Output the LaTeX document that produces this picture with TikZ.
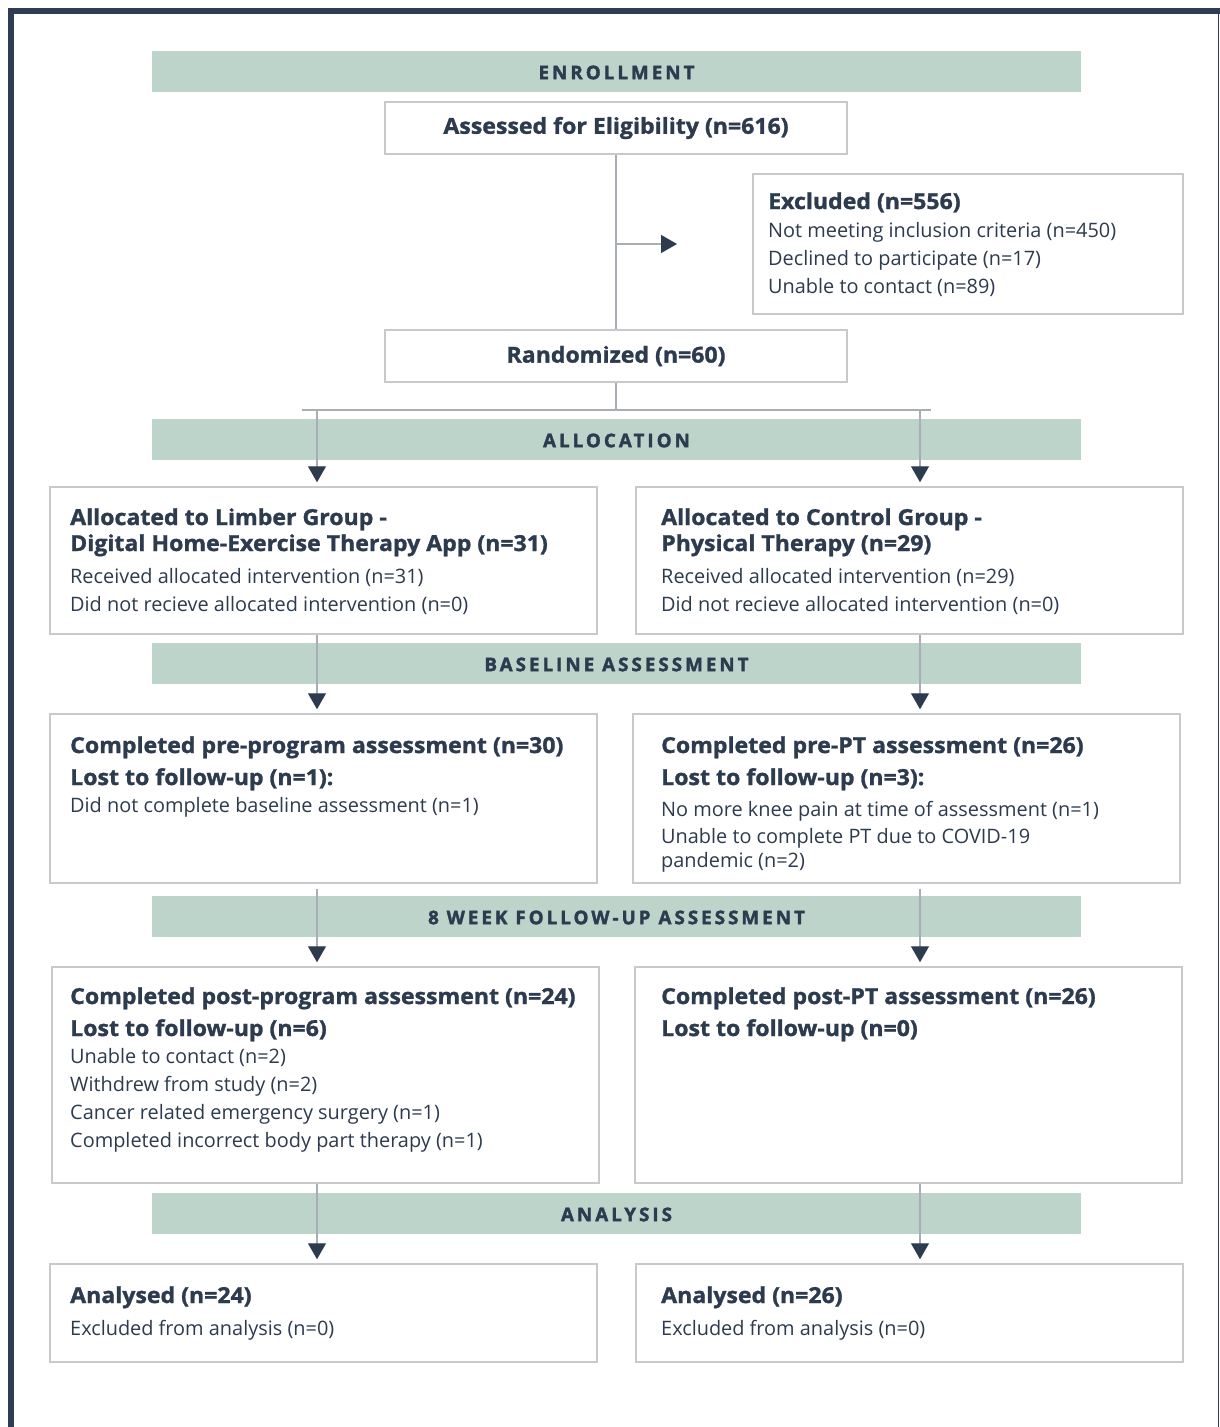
\documentclass[tikz,border=0pt]{standalone}
\usepackage{fontspec}
\setmainfont{Open Sans}
\usetikzlibrary{arrows.meta}
\definecolor{bannerc}{HTML}{BDD4CA}
\definecolor{ink}{HTML}{2D3B4F}
\definecolor{boxline}{HTML}{C7C9CC}
\definecolor{conn}{HTML}{A9AEB4}
\definecolor{framec}{HTML}{2F3D52}
\newcommand{\bodyfont}{\fontsize{19.9}{24}\selectfont}
\newcommand{\headfont}{\fontsize{22}{26}\selectfont\bfseries\addfontfeatures{FakeBold=1.3,FakeStretch=1.05}}
\newcommand{\banfont}{\fontsize{18.8}{20}\selectfont\bfseries\addfontfeatures{LetterSpace=16,FakeBold=1.8}}
\begin{document}
\begin{tikzpicture}[x=1pt,y=-1pt,
  banner/.style={fill=bannerc, draw=none, minimum width=929pt, minimum height=41pt, inner sep=0pt, font=\banfont, text=ink},
  bantext/.style={inner sep=0pt, font=\banfont, text=ink},
  box/.style={draw=boxline, line width=1.5pt, inner sep=0pt, fill=white},
  ln/.style={anchor=base west, inner sep=0pt, font=\bodyfont, text=ink},
  hd/.style={anchor=base west, inner sep=0pt, font=\headfont, text=ink},
  cn/.style={draw=conn, line width=1.2pt},
  ar/.style={draw=conn, line width=1.2pt, -{Triangle[length=16pt,width=18pt,color=ink]}}
]
\useasboundingbox (0,0) rectangle (1220,1427);
\fill[white] (0,0) rectangle (1220,1427);
% frame
\fill[framec] (8,8) rectangle (1220,14);
\fill[framec] (8,8) rectangle (14,1427);
\draw[framec, line width=1.5pt] (1218.5,14) -- (1218.5,1427);

% banners
\node[banner] (b1) at (616.5,71.5) {};
\node[banner] (b2) at (616.5,439.5) {};
\node[banner] (b3) at (616.5,663.5) {};
\node[banner] (b4) at (616.5,916.5) {};
\node[banner] (b5) at (616.5,1213.5) {};
\node[bantext] (b1t) at ([yshift=-1pt]b1.center) {ENROLLMENT};
\node[bantext] (b2t) at ([yshift=-1pt]b2.center) {ALLOCATION};
\node[bantext] (b3t) at ([yshift=-1pt]b3.center) {BASELINE ASSESSMENT};
\node[bantext] (b4t) at ([yshift=-1pt]b4.center) {8 WEEK FOLLOW-UP ASSESSMENT};
\node[bantext] (b5t) at ([yshift=-1pt]b5.center) {ANALYSIS};

% enrollment boxes
\node[box, minimum width=462pt, minimum height=52pt, font=\headfont, text=ink] (assess) at (616,128) {Assessed for Eligibility (n=616)};
\node[box, minimum width=430pt, minimum height=140pt] (excl) at (968,244) {};
\node[box, minimum width=462pt, minimum height=52pt, font=\headfont, text=ink] (rand) at (616,356) {Randomized (n=60)};

\node[hd] (e1) at (768,209) {Excluded (n=556)};
\node[ln] (e2) at (768,237) {Not meeting inclusion criteria (n=450)};
\node[ln] (e3) at (768,265) {Declined to participate (n=17)};
\node[ln] (e4) at (768,293) {Unable to contact (n=89)};

% allocation boxes
\node[box, minimum width=547pt, minimum height=147pt] (al) at (323.5,560.5) {};
\node[box, minimum width=547pt, minimum height=147pt] (ar) at (909.5,560.5) {};
\node[hd] (al1) at (70,525) {Allocated to Limber Group -};
\node[hd] (al2) at (70,551) {Digital Home-Exercise Therapy App (n=31)};
\node[ln] (al3) at (70,583) {Received allocated intervention (n=31)};
\node[ln] (al4) at (70,611) {Did not recieve allocated intervention (n=0)};
\node[hd] (ar1) at (661,525) {Allocated to Control Group -};
\node[hd] (ar2) at (661,551) {Physical Therapy (n=29)};
\node[ln] (ar3) at (661,583) {Received allocated intervention (n=29)};
\node[ln] (ar4) at (661,611) {Did not recieve allocated intervention (n=0)};

% baseline boxes
\node[box, minimum width=547pt, minimum height=169pt] (bl) at (323.5,798.5) {};
\node[box, minimum width=547pt, minimum height=169pt] (br) at (906.5,798.5) {};
\node[hd] (bl1) at (70,753) {Completed pre-program assessment (n=30)};
\node[hd] (bl2) at (70,785) {Lost to follow-up (n=1):};
\node[ln] (bl3) at (70,812) {Did not complete baseline assessment (n=1)};
\node[hd] (br1) at (661,753) {Completed pre-PT assessment (n=26)};
\node[hd] (br2) at (661,785) {Lost to follow-up (n=3):};
\node[ln] (br3) at (661,816) {No more knee pain at time of assessment (n=1)};
\node[ln] (br4) at (661,843) {Unable to complete PT due to COVID-19};
\node[ln] (br5) at (661,867) {pandemic (n=2)};

% follow-up boxes
\node[box, minimum width=547pt, minimum height=216pt] (fl) at (325.5,1075) {};
\node[box, minimum width=547pt, minimum height=216pt] (fr) at (908.5,1075) {};
\node[hd] (fl1) at (70,1004) {Completed post-program assessment (n=24)};
\node[hd] (fl2) at (70,1036) {Lost to follow-up (n=6)};
\node[ln] (fl3) at (70,1063) {Unable to contact (n=2)};
\node[ln] (fl4) at (70,1091) {Withdrew from study (n=2)};
\node[ln] (fl5) at (70,1119) {Cancer related emergency surgery (n=1)};
\node[ln] (fl6) at (70,1147) {Completed incorrect body part therapy (n=1)};
\node[hd] (fr1) at (661,1004) {Completed post-PT assessment (n=26)};
\node[hd] (fr2) at (661,1036) {Lost to follow-up (n=0)};

% analysis boxes
\node[box, minimum width=547pt, minimum height=98pt] (nl) at (323.5,1313) {};
\node[box, minimum width=547pt, minimum height=98pt] (nr) at (909.5,1313) {};
\node[hd] (nl1) at (70,1303) {Analysed (n=24)};
\node[ln] (nl2) at (70,1335) {Excluded from analysis (n=0)};
\node[hd] (nr1) at (661,1303) {Analysed (n=26)};
\node[ln] (nr2) at (661,1335) {Excluded from analysis (n=0)};

% connectors
\coordinate (jx) at (616,244);
\coordinate (jxe) at (677,244);
\coordinate (jm) at (616,410);
\coordinate (jl) at (302,410);
\coordinate (jr) at (931,410);
\coordinate (la) at (317,410);
\coordinate (ra) at (920,410);
\draw[cn] (assess.south) -- (rand.north);
\draw[ar] (jx) -- (jxe);
\draw[cn] (rand.south) -- (jm);
\draw[cn] (jl) -- (jr);
\draw[ar] (la) -- ([yshift=4pt]al.north -| la);
\draw[ar] (ra) -- ([yshift=4pt]ar.north -| ra);
\draw[ar] (al.south -| la) -- ([yshift=4pt]bl.north -| la);
\draw[ar] (ar.south -| ra) -- ([yshift=4pt]br.north -| ra);
\draw[ar] ([yshift=-5pt]bl.south -| la) -- ([yshift=4pt]fl.north -| la);
\draw[ar] ([yshift=-5pt]br.south -| ra) -- ([yshift=4pt]fr.north -| ra);
\draw[ar] (fl.south -| la) -- ([yshift=4pt]nl.north -| la);
\draw[ar] (fr.south -| ra) -- ([yshift=4pt]nr.north -| ra);
\end{tikzpicture}
\end{document}
